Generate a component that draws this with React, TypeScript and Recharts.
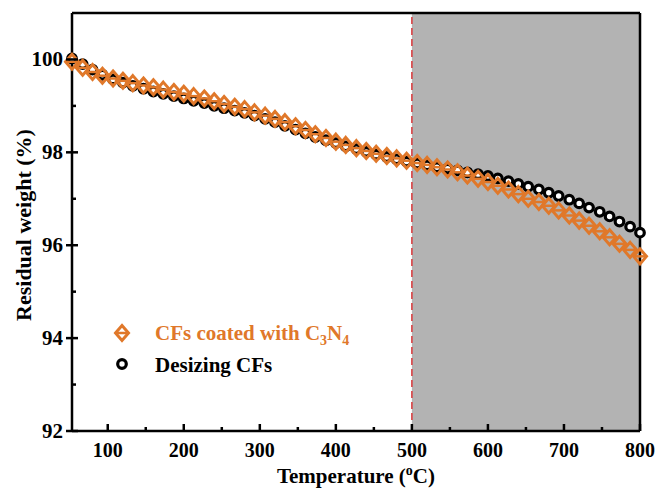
import { LineChart, Line, XAxis, YAxis, ReferenceArea, ReferenceLine } from 'recharts';

const ORANGE = '#e0782a';

// temperatures (°C) where markers sit
const temps = [53, 67, 80, 93, 107, 120, 133, 147, 160, 173, 187, 200, 213, 227, 240, 253, 267, 280, 293, 307, 320, 333, 347, 360, 373, 387, 400, 413, 427, 440, 453, 467, 480, 493, 507, 520, 533, 547, 560, 573, 587, 600, 613, 627, 640, 653, 667, 680, 693, 707, 720, 733, 747, 760, 773, 787, 800];

const coated = [99.95, 99.82, 99.73, 99.65, 99.59, 99.54, 99.49, 99.44, 99.4, 99.35, 99.3, 99.26, 99.21, 99.16, 99.1, 99.04, 98.98, 98.93, 98.86, 98.79, 98.72, 98.65, 98.56, 98.48, 98.39, 98.31, 98.23, 98.16, 98.09, 98.03, 97.97, 97.92, 97.87, 97.82, 97.77, 97.73, 97.68, 97.63, 97.57, 97.5, 97.43, 97.36, 97.28, 97.2, 97.1, 97.0, 96.93, 96.85, 96.75, 96.64, 96.53, 96.42, 96.3, 96.17, 96.03, 95.9, 95.76];

const desizing = [100.02, 99.9, 99.78, 99.67, 99.57, 99.5, 99.43, 99.37, 99.31, 99.26, 99.21, 99.16, 99.11, 99.06, 99.0, 98.95, 98.9, 98.85, 98.79, 98.72, 98.65, 98.57, 98.49, 98.41, 98.33, 98.26, 98.2, 98.13, 98.07, 98.01, 97.95, 97.9, 97.85, 97.8, 97.76, 97.72, 97.68, 97.65, 97.61, 97.57, 97.53, 97.49, 97.44, 97.38, 97.32, 97.26, 97.2, 97.13, 97.06, 96.98, 96.9, 96.81, 96.72, 96.62, 96.51, 96.4, 96.27];

const xTicks = [100, 150, 200, 250, 300, 350, 400, 450, 500, 550, 600, 650, 700, 750, 800];
const yTicks = [92, 93, 94, 95, 96, 97, 98, 99, 100];

const data = temps.map((t, i) => ({ t, coated: coated[i], desizing: desizing[i] }));

const font = { fontFamily: '"Liberation Serif", "Times New Roman", serif', fontWeight: 'bold' as const };

const Diamond = ({ cx, cy }: any) => {
	if (cx == null || cy == null) return null;
	return (
		<g>
			<polygon
				points={`${cx},${cy - 7.5} ${cx + 6.5},${cy} ${cx},${cy + 7.5} ${cx - 6.5},${cy}`}
				fill='none'
				stroke={ORANGE}
				strokeWidth={3}
			/>
			<line x1={cx - 6.5} x2={cx + 6.5} y1={cy} y2={cy} stroke={ORANGE} strokeWidth={2.5} />
		</g>
	);
};

const Ring = ({ cx, cy }: any) => {
	if (cx == null || cy == null) return null;
	return <circle cx={cx} cy={cy} r={4.3} fill='#fff' stroke='#000' strokeWidth={3.2} />;
};

const XTick = ({ x, y, payload }: any) => {
	const major = payload.value % 100 === 0;
	return (
		<g>
			<line x1={x} x2={x} y1={y} y2={y - (major ? 7 : 4)} stroke='#000' strokeWidth={2.5} />
			{major && (
				<text x={x} y={y + 26} textAnchor='middle' fontSize={20} fill='#000' style={font}>
					{payload.value}
				</text>
			)}
		</g>
	);
};

const YTick = ({ x, y, payload }: any) => {
	const major = payload.value % 2 === 0;
	return (
		<g>
			<line x1={major ? x - 6 : x} x2={x + (major ? 6 : 4)} y1={y} y2={y} stroke='#000' strokeWidth={2.5} />
			{major && (
				<text x={x - 9} y={y + 7} textAnchor='end' fontSize={21} fill='#000' style={font}>
					{payload.value}
				</text>
			)}
		</g>
	);
};

export default function App() {
	return (
		<div style={{ position: 'absolute', left: 0, top: 0, width: 659, height: 488, background: '#fff' }}>
			<LineChart width={659} height={488} data={data} margin={{ top: 13, right: 19, bottom: 17, left: 12 }}>
				<ReferenceArea x1={500} x2={800} y1={92} y2={101} fill='#b3b3b3' fillOpacity={1} stroke='none' />
				<ReferenceLine x={500} stroke='#d8383a' strokeWidth={1.5} strokeDasharray='7 4' />
				<ReferenceLine y={101} stroke='#000' strokeWidth={2.5} />
				<ReferenceLine x={800} stroke='#000' strokeWidth={2.5} />
				<XAxis
					dataKey='t'
					type='number'
					domain={[53, 800]}
					ticks={xTicks}
					interval={0}
					height={40}
					tickSize={0}
					tickMargin={0}
					tickLine={false}
					tick={<XTick />}
					axisLine={{ stroke: '#000', strokeWidth: 2.5 }}
				/>
				<YAxis
					type='number'
					domain={[92, 101]}
					ticks={yTicks}
					interval={0}
					width={60}
					tickSize={0}
					tickMargin={0}
					tickLine={false}
					tick={<YTick />}
					axisLine={{ stroke: '#000', strokeWidth: 2.5 }}
				/>
				<Line dataKey='desizing' stroke='none' dot={<Ring />} activeDot={false} isAnimationActive={false} />
				<Line dataKey='coated' stroke='none' dot={<Diamond />} activeDot={false} isAnimationActive={false} />
			</LineChart>
			{/* legend and axis titles */}
			<svg width={659} height={488} style={{ position: 'absolute', left: 0, top: 0, pointerEvents: 'none' }}>
				<Diamond cx={122} cy={333} />
				<text x={155} y={340} fontSize={21} fill={ORANGE} style={font}>
					CFs coated with C<tspan fontSize={14} dy={5}>3</tspan>
					<tspan dy={-5}>N</tspan>
					<tspan fontSize={14} dy={5}>4</tspan>
				</text>
				<Ring cx={122} cy={364} />
				<text x={155} y={372} fontSize={21} fill='#000' style={font}>
					Desizing CFs
				</text>
				<text x={356} y={483} textAnchor='middle' fontSize={21} fill='#000' style={font}>
					Temperature (<tspan fontSize={14} dy={-8}>o</tspan>
					<tspan dy={8}>C)</tspan>
				</text>
				<text
					x={0}
					y={0}
					transform='translate(31,225) rotate(-90)'
					textAnchor='middle'
					fontSize={22}
					fill='#000'
					style={font}
				>
					Residual weight (%)
				</text>
			</svg>
		</div>
	);
}
